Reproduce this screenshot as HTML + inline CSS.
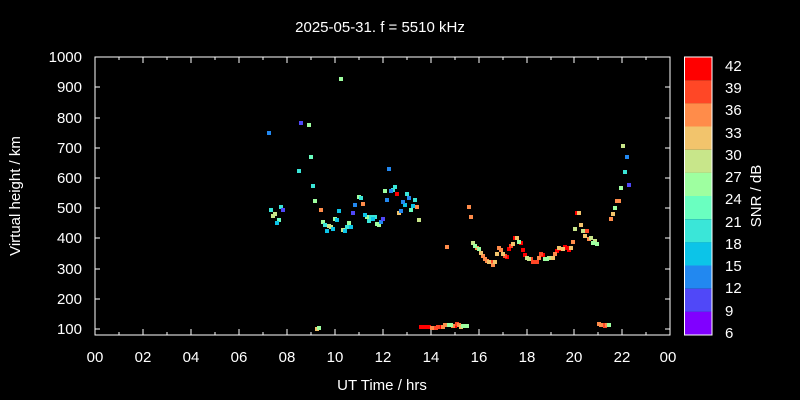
<!DOCTYPE html>
<html><head><style>html,body{margin:0;padding:0;background:#000}svg{display:block}text{font-family:"Liberation Sans",sans-serif;fill:#fff}</style></head><body>
<svg width="800" height="400" xmlns="http://www.w3.org/2000/svg">
<defs><rect id="p" width="4" height="4"/></defs>
<rect width="800" height="400" fill="#000"/>
<text x="380" y="32" font-size="15" text-anchor="middle">2025-05-31. f = 5510 kHz</text>
<g stroke="#fff" stroke-width="1" fill="none">
<rect x="95" y="57" width="575" height="278"/>
<path d="M95,329h5M95,299h5M95,269h5M95,238h5M95,208h5M95,178h5M95,148h5M95,118h5M95,87h5M670,329h-5M670,299h-5M670,269h-5M670,238h-5M670,208h-5M670,178h-5M670,148h-5M670,118h-5M670,87h-5"/>
<path d="M95,335v-6M119,335v-3M143,335v-6M167,335v-3M191,335v-6M215,335v-3M239,335v-6M263,335v-3M287,335v-6M311,335v-3M335,335v-6M359,335v-3M383,335v-6M407,335v-3M431,335v-6M455,335v-3M479,335v-6M503,335v-3M527,335v-6M551,335v-3M574,335v-6M598,335v-3M622,335v-6M646,335v-3M95,57v6M119,57v3M143,57v6M167,57v3M191,57v6M215,57v3M239,57v6M263,57v3M287,57v6M311,57v3M335,57v6M359,57v3M383,57v6M407,57v3M431,57v6M455,57v3M479,57v6M503,57v3M527,57v6M551,57v3M574,57v6M598,57v3M622,57v6M646,57v3"/>
</g>
<g font-size="15" text-anchor="end">
<text x="82" y="62">1000</text><text x="82" y="92">900</text><text x="82" y="123">800</text><text x="82" y="153">700</text><text x="82" y="183">600</text><text x="82" y="213">500</text><text x="82" y="243">400</text><text x="82" y="274">300</text><text x="82" y="304">200</text><text x="82" y="334">100</text>
</g>
<g font-size="15" text-anchor="middle">
<text x="95" y="362">00</text><text x="143" y="362">02</text><text x="191" y="362">04</text><text x="239" y="362">06</text><text x="287" y="362">08</text><text x="335" y="362">10</text><text x="383" y="362">12</text><text x="431" y="362">14</text><text x="479" y="362">16</text><text x="527" y="362">18</text><text x="574" y="362">20</text><text x="622" y="362">22</text><text x="668" y="362">00</text>
<text x="382" y="390">UT Time / hrs</text>
<text transform="translate(20,196) rotate(-90)">Virtual height / km</text>
<text transform="translate(761,196) rotate(-90)">SNR / dB</text>
</g>
<g>
<rect x="684" y="57" width="28" height="23.2" fill="#ff0000"/>
<rect x="684" y="80.2" width="28" height="23.2" fill="#ff4726"/>
<rect x="684" y="103.3" width="28" height="23.2" fill="#ff8c4a"/>
<rect x="684" y="126.5" width="28" height="23.2" fill="#f2c46c"/>
<rect x="684" y="149.7" width="28" height="23.2" fill="#c8e68a"/>
<rect x="684" y="172.8" width="28" height="23.2" fill="#9effa0"/>
<rect x="684" y="196" width="28" height="23.2" fill="#6affc0"/>
<rect x="684" y="219.2" width="28" height="23.2" fill="#3ae6d8"/>
<rect x="684" y="242.3" width="28" height="23.2" fill="#0cc4e8"/>
<rect x="684" y="265.5" width="28" height="23.2" fill="#2288f0"/>
<rect x="684" y="288.7" width="28" height="23.2" fill="#5048f8"/>
<rect x="684" y="311.8" width="28" height="23.2" fill="#8000ff"/>
<rect x="684.5" y="57" width="27.5" height="278" fill="none" stroke="#fff"/>
</g>
<g font-size="15">
<text x="725" y="71">42</text><text x="725" y="93">39</text><text x="725" y="115">36</text><text x="725" y="138">33</text><text x="725" y="160">30</text><text x="725" y="182">27</text><text x="725" y="204">24</text><text x="725" y="227">21</text><text x="725" y="249">18</text><text x="725" y="271">15</text><text x="725" y="293">12</text><text x="725" y="316">9</text><text x="725" y="338">6</text>
</g>
<g transform="translate(-2,-2)">
<g fill="#ff0000">
<use href="#p" x="397" y="194"/><use href="#p" x="507" y="257"/><use href="#p" x="509" y="249"/><use href="#p" x="515" y="238"/><use href="#p" x="521" y="243"/><use href="#p" x="523" y="250"/><use href="#p" x="525" y="255"/><use href="#p" x="535" y="262"/><use href="#p" x="543" y="255"/><use href="#p" x="557" y="251"/><use href="#p" x="561" y="249"/><use href="#p" x="565" y="247"/><use href="#p" x="567" y="248"/><use href="#p" x="569" y="250"/><use href="#p" x="577" y="213"/><use href="#p" x="421" y="327"/><use href="#p" x="423" y="327"/><use href="#p" x="425" y="327"/><use href="#p" x="427" y="327"/><use href="#p" x="429" y="327"/><use href="#p" x="440" y="327"/><use href="#p" x="455" y="326"/>
</g>
<g fill="#ff4726">
<use href="#p" x="491" y="262"/><use href="#p" x="505" y="256"/><use href="#p" x="511" y="246"/><use href="#p" x="531" y="259"/><use href="#p" x="533" y="262"/><use href="#p" x="537" y="262"/><use href="#p" x="541" y="254"/><use href="#p" x="587" y="231"/><use href="#p" x="434" y="328"/><use href="#p" x="436" y="328"/><use href="#p" x="438" y="327"/><use href="#p" x="457" y="324"/><use href="#p" x="603" y="325"/><use href="#p" x="605" y="326"/>
</g>
<g fill="#ff8c4a">
<use href="#p" x="321" y="210"/><use href="#p" x="363" y="204"/><use href="#p" x="417" y="207"/><use href="#p" x="447" y="247"/><use href="#p" x="469" y="207"/><use href="#p" x="471" y="217"/><use href="#p" x="477" y="248"/><use href="#p" x="483" y="256"/><use href="#p" x="485" y="259"/><use href="#p" x="487" y="261"/><use href="#p" x="493" y="265"/><use href="#p" x="499" y="248"/><use href="#p" x="501" y="250"/><use href="#p" x="539" y="258"/><use href="#p" x="555" y="254"/><use href="#p" x="573" y="242"/><use href="#p" x="589" y="239"/><use href="#p" x="611" y="219"/><use href="#p" x="617" y="201"/><use href="#p" x="619" y="201"/><use href="#p" x="432" y="328"/><use href="#p" x="443" y="327"/><use href="#p" x="445" y="325"/><use href="#p" x="453" y="326"/><use href="#p" x="459" y="325"/><use href="#p" x="599" y="324"/><use href="#p" x="601" y="325"/><use href="#p" x="607" y="325"/>
</g>
<g fill="#f2c46c">
<use href="#p" x="317" y="329"/><use href="#p" x="399" y="213"/><use href="#p" x="481" y="253"/><use href="#p" x="489" y="262"/><use href="#p" x="495" y="262"/><use href="#p" x="497" y="254"/><use href="#p" x="503" y="254"/><use href="#p" x="513" y="244"/><use href="#p" x="517" y="238"/><use href="#p" x="551" y="258"/><use href="#p" x="553" y="258"/><use href="#p" x="559" y="248"/><use href="#p" x="563" y="249"/><use href="#p" x="571" y="248"/><use href="#p" x="579" y="213"/><use href="#p" x="581" y="225"/><use href="#p" x="585" y="236"/><use href="#p" x="613" y="214"/><use href="#p" x="461" y="327"/>
</g>
<g fill="#c8e68a">
<use href="#p" x="275" y="214"/><use href="#p" x="273" y="216"/><use href="#p" x="329" y="226"/><use href="#p" x="331" y="227"/><use href="#p" x="343" y="230"/><use href="#p" x="419" y="220"/><use href="#p" x="473" y="243"/><use href="#p" x="527" y="258"/><use href="#p" x="529" y="259"/><use href="#p" x="549" y="258"/><use href="#p" x="575" y="229"/><use href="#p" x="583" y="231"/><use href="#p" x="591" y="238"/><use href="#p" x="595" y="241"/><use href="#p" x="623" y="146"/>
</g>
<g fill="#9effa0">
<use href="#p" x="309" y="125"/><use href="#p" x="341" y="79"/><use href="#p" x="315" y="201"/><use href="#p" x="323" y="222"/><use href="#p" x="335" y="219"/><use href="#p" x="349" y="223"/><use href="#p" x="359" y="197"/><use href="#p" x="367" y="217"/><use href="#p" x="377" y="224"/><use href="#p" x="379" y="225"/><use href="#p" x="319" y="328"/><use href="#p" x="385" y="191"/><use href="#p" x="475" y="246"/><use href="#p" x="479" y="249"/><use href="#p" x="519" y="242"/><use href="#p" x="545" y="259"/><use href="#p" x="547" y="259"/><use href="#p" x="593" y="243"/><use href="#p" x="597" y="244"/><use href="#p" x="615" y="208"/><use href="#p" x="621" y="188"/><use href="#p" x="449" y="325"/><use href="#p" x="451" y="325"/><use href="#p" x="463" y="326"/><use href="#p" x="465" y="326"/><use href="#p" x="467" y="326"/><use href="#p" x="609" y="325"/>
</g>
<g fill="#6affc0">
<use href="#p" x="311" y="157"/><use href="#p" x="279" y="220"/><use href="#p" x="411" y="210"/>
</g>
<g fill="#3ae6d8">
<use href="#p" x="299" y="171"/><use href="#p" x="313" y="186"/><use href="#p" x="271" y="210"/><use href="#p" x="281" y="207"/><use href="#p" x="325" y="225"/><use href="#p" x="347" y="227"/><use href="#p" x="361" y="198"/><use href="#p" x="369" y="221"/><use href="#p" x="371" y="217"/><use href="#p" x="375" y="217"/><use href="#p" x="393" y="190"/><use href="#p" x="395" y="187"/><use href="#p" x="407" y="194"/><use href="#p" x="415" y="200"/><use href="#p" x="625" y="172"/>
</g>
<g fill="#0cc4e8">
<use href="#p" x="277" y="223"/><use href="#p" x="327" y="231"/><use href="#p" x="333" y="229"/><use href="#p" x="337" y="220"/><use href="#p" x="339" y="211"/><use href="#p" x="345" y="231"/><use href="#p" x="351" y="227"/><use href="#p" x="365" y="215"/><use href="#p" x="373" y="219"/><use href="#p" x="405" y="205"/><use href="#p" x="413" y="206"/>
</g>
<g fill="#2288f0">
<use href="#p" x="269" y="133"/><use href="#p" x="355" y="205"/><use href="#p" x="381" y="222"/><use href="#p" x="389" y="169"/><use href="#p" x="387" y="200"/><use href="#p" x="391" y="191"/><use href="#p" x="401" y="211"/><use href="#p" x="403" y="202"/><use href="#p" x="409" y="198"/><use href="#p" x="627" y="157"/>
</g>
<g fill="#5048f8">
<use href="#p" x="301" y="123"/><use href="#p" x="283" y="210"/><use href="#p" x="353" y="213"/><use href="#p" x="383" y="219"/><use href="#p" x="629" y="185"/>
</g>
</g>
</svg>
</body></html>
